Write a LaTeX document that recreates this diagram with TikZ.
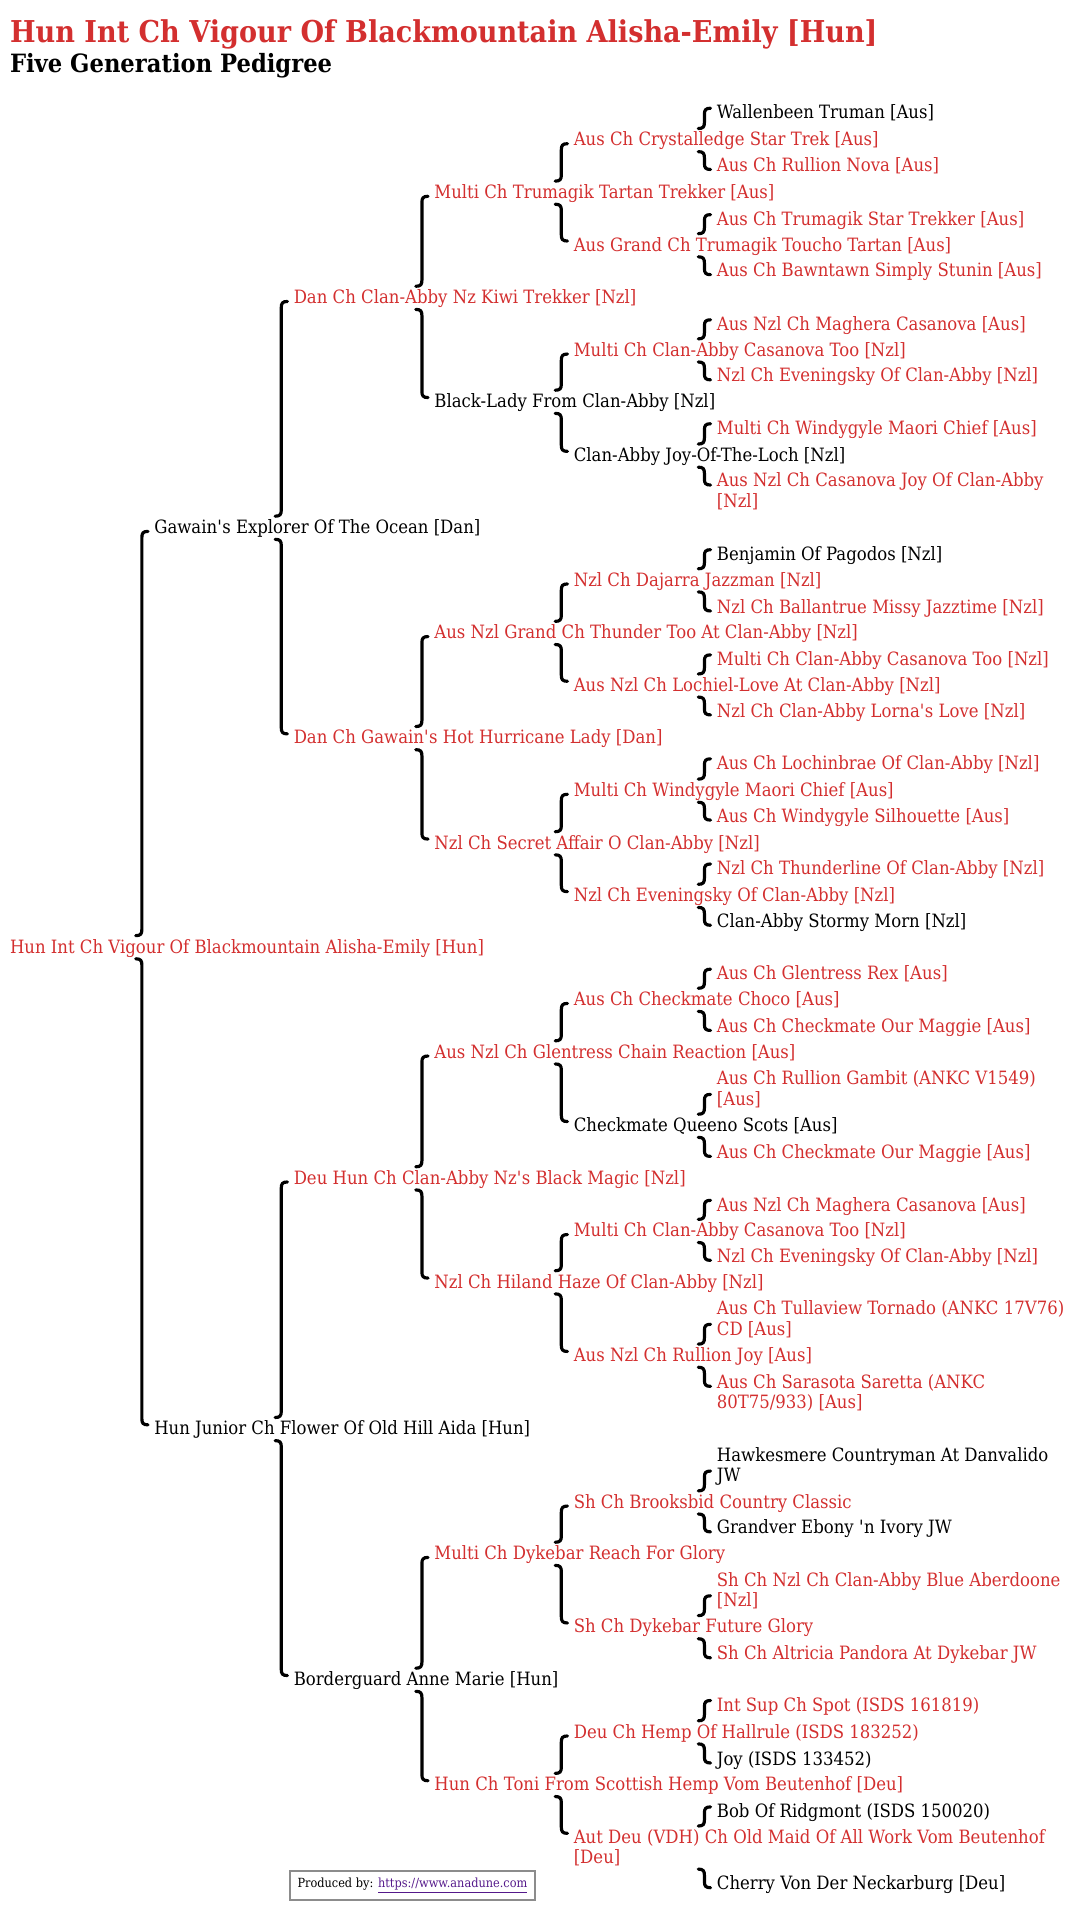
\documentclass[tikz,border=0pt]{standalone}
\usepackage{fontspec}
\setmainfont{DejaVu Serif}[FakeStretch=0.9]
\usetikzlibrary{calc}
\definecolor{champ}{RGB}{211,47,47}
\definecolor{link}{RGB}{85,26,139}
\definecolor{boxgray}{RGB}{140,140,140}
\tikzset{
dog/.style={anchor=west, inner sep=0pt, align=left, font=\fontsize{15}{16.5}\selectfont, execute at begin node=\strut, execute at end node=\strut},
brace/.style={line width=2.6pt, line cap=round},
}
\newcommand\sirebrace[3]{
\path ($(#1.south west)+(-10,#3)$) coordinate (bt) ($(#1.west |- #2.north)+(-10,-2.45)$) coordinate (bb);
\draw[brace] ($(bt)+(5,0)$) .. controls ($(bt)+(1,0)$) and ($(bt)+(0,1.5)$) .. ($(bt)+(0,5)$) -- ($(bb)+(0,-5)$) .. controls ($(bb)+(0,-1.5)$) and ($(bb)+(-1,0)$) .. ($(bb)+(-5,0)$);
}
\newcommand\dambrace[3]{
\path ($(#2.west |- #1.south)+(-10,-0.45)$) coordinate (bt) ($(#2.north west)+(-10,#3)$) coordinate (bb);
\draw[brace] ($(bt)+(-5,0)$) .. controls ($(bt)+(-1,0)$) and ($(bt)+(0,1.5)$) .. ($(bt)+(0,5)$) -- ($(bb)+(0,-5)$) .. controls ($(bb)+(0,-1.5)$) and ($(bb)+(1,0)$) .. ($(bb)+(5,0)$);
}
\begin{document}
\begin{tikzpicture}[x=1pt, y=-1pt]
\useasboundingbox (0,0) rectangle (880,1570);
\node[anchor=base west, inner sep=0pt, font=\bfseries\fontsize{24.6}{30}\selectfont, text=champ] (title) at (8,34.6) {Hun Int Ch Vigour Of Blackmountain Alisha-Emily [Hun]};
\node[anchor=base west, inner sep=0pt, font=\bfseries\fontsize{20.6}{24}\selectfont] (subtitle) at (8,59.4) {Five Generation Pedigree};
\foreach \who/\x/\y/\col/\txt in {
o/8/776/champ/{Hun Int Ch Vigour Of Blackmountain Alisha-Emily [Hun]},
os/126/433/black/{Gawain\textquotesingle s Explorer Of The Ocean [Dan]},
od/126/1170/black/{Hun Junior Ch Flower Of Old Hill Aida [Hun]},
oss/240/245/champ/{Dan Ch Clan-Abby Nz Kiwi Trekker [Nzl]},
osd/240/605/champ/{Dan Ch Gawain\textquotesingle s Hot Hurricane Lady [Dan]},
ods/240/965/champ/{Deu Hun Ch Clan-Abby Nz\textquotesingle s Black Magic [Nzl]},
odd/240/1375/black/{Borderguard Anne Marie [Hun]},
osss/355/159/champ/{Multi Ch Trumagik Tartan Trekker [Aus]},
ossd/355/330/black/{Black-Lady From Clan-Abby [Nzl]},
osds/355/519/champ/{Aus Nzl Grand Ch Thunder Too At Clan-Abby [Nzl]},
osdd/355/691/champ/{Nzl Ch Secret Affair O Clan-Abby [Nzl]},
odss/355/862/champ/{Aus Nzl Ch Glentress Chain Reaction [Aus]},
odsd/355/1050/champ/{Nzl Ch Hiland Haze Of Clan-Abby [Nzl]},
odds/355/1272/champ/{Multi Ch Dykebar Reach For Glory},
oddd/355/1461/champ/{Hun Ch Toni From Scottish Hemp Vom Beutenhof [Deu]},
ossss/469/116/champ/{Aus Ch Crystalledge Star Trek [Aus]},
osssd/469/202/champ/{Aus Grand Ch Trumagik Toucho Tartan [Aus]},
ossds/469/288/champ/{Multi Ch Clan-Abby Casanova Too [Nzl]},
ossdd/469/374/black/{Clan-Abby Joy-Of-The-Loch [Nzl]},
osdss/469/476/champ/{Nzl Ch Dajarra Jazzman [Nzl]},
osdsd/469/562/champ/{Aus Nzl Ch Lochiel-Love At Clan-Abby [Nzl]},
osdds/469/648/champ/{Multi Ch Windygyle Maori Chief [Aus]},
osddd/469/734/champ/{Nzl Ch Eveningsky Of Clan-Abby [Nzl]},
odsss/469/819/champ/{Aus Ch Checkmate Choco [Aus]},
odssd/469/922/black/{Checkmate Queeno Scots [Aus]},
odsds/469/1008/champ/{Multi Ch Clan-Abby Casanova Too [Nzl]},
odsdd/469/1110/champ/{Aus Nzl Ch Rullion Joy [Aus]},
oddss/469/1230/champ/{Sh Ch Brooksbid Country Classic},
oddsd/469/1332/champ/{Sh Ch Dykebar Future Glory},
oddds/469/1418/champ/{Deu Ch Hemp Of Hallrule (ISDS 183252)},
odddd/469/1512.2/champ/{Aut Deu (VDH) Ch Old Maid Of All Work Vom Beutenhof\\{[Deu]}},
osssss/586/94/black/{Wallenbeen Truman [Aus]},
ossssd/586/137/champ/{Aus Ch Rullion Nova [Aus]},
osssds/586/181/champ/{Aus Ch Trumagik Star Trekker [Aus]},
osssdd/586/223/champ/{Aus Ch Bawntawn Simply Stunin [Aus]},
ossdss/586/267/champ/{Aus Nzl Ch Maghera Casanova [Aus]},
ossdsd/586/309/champ/{Nzl Ch Eveningsky Of Clan-Abby [Nzl]},
ossdds/586/352/champ/{Multi Ch Windygyle Maori Chief [Aus]},
ossddd/586/403.2/champ/{Aus Nzl Ch Casanova Joy Of Clan-Abby\\{[Nzl]}},
osdsss/586/455/black/{Benjamin Of Pagodos [Nzl]},
osdssd/586/498/champ/{Nzl Ch Ballantrue Missy Jazztime [Nzl]},
osdsds/586/541/champ/{Multi Ch Clan-Abby Casanova Too [Nzl]},
osdsdd/586/583/champ/{Nzl Ch Clan-Abby Lorna\textquotesingle s Love [Nzl]},
osddss/586/626/champ/{Aus Ch Lochinbrae Of Clan-Abby [Nzl]},
osddsd/586/669/champ/{Aus Ch Windygyle Silhouette [Aus]},
osddds/586/712/champ/{Nzl Ch Thunderline Of Clan-Abby [Nzl]},
osdddd/586/755/black/{Clan-Abby Stormy Morn [Nzl]},
odssss/586/798/champ/{Aus Ch Glentress Rex [Aus]},
odsssd/586/841/champ/{Aus Ch Checkmate Our Maggie [Aus]},
odssds/586/892.2/champ/{Aus Ch Rullion Gambit (ANKC V1549)\\{[Aus]}},
odssdd/586/944/champ/{Aus Ch Checkmate Our Maggie [Aus]},
odsdss/586/987/champ/{Aus Nzl Ch Maghera Casanova [Aus]},
odsdsd/586/1029/champ/{Nzl Ch Eveningsky Of Clan-Abby [Nzl]},
odsdds/586/1080.2/champ/{Aus Ch Tullaview Tornado (ANKC 17V76)\\CD [Aus]},
odsddd/586/1140.2/champ/{Aus Ch Sarasota Saretta (ANKC\\80T75/933) [Aus]},
oddsss/586/1200.2/black/{Hawkesmere Countryman At Danvalido\\JW},
oddssd/586/1251/black/{Grandver Ebony \textquotesingle n Ivory JW},
oddsds/586/1302.2/champ/{Sh Ch Nzl Ch Clan-Abby Blue Aberdoone\\{[Nzl]}},
oddsdd/586/1354/champ/{Sh Ch Altricia Pandora At Dykebar JW},
odddss/586/1396/champ/{Int Sup Ch Spot (ISDS 161819)},
odddsd/586/1440/black/{Joy (ISDS 133452)},
odddds/586/1483/black/{Bob Of Ridgmont (ISDS 150020)},
oddddd/586/1542/black/{Cherry Von Der Neckarburg [Deu]}} {
\node[dog, text=\col] (\who) at (\x,\y) {\txt};
}
\foreach \who in {o,os,od,oss,osd,ods,odd,osss,ossd,osds,osdd,odss,odsd,odds,oddd} {
\sirebrace{\who s}{\who}{-6.95}
\dambrace{\who}{\who d}{3.55}
}
\foreach \who in {ossss,osssd,ossds,ossdd,osdss,osdsd,osdds,osddd,odsss,odssd,odsds,odsdd,oddss,oddsd,oddds,odddd} {
\sirebrace{\who s}{\who}{-13.95}
\dambrace{\who}{\who d}{10.05}
}
\node[draw=boxgray, line width=1.8pt, minimum width=200pt, minimum height=24pt, inner sep=0pt, font=\fontsize{10.3}{12}\selectfont] (footer) at (337.25,1541.75) {Produced by: \textcolor{link}{\underline{https://www.anadune.com}}};
\end{tikzpicture}
\end{document}
